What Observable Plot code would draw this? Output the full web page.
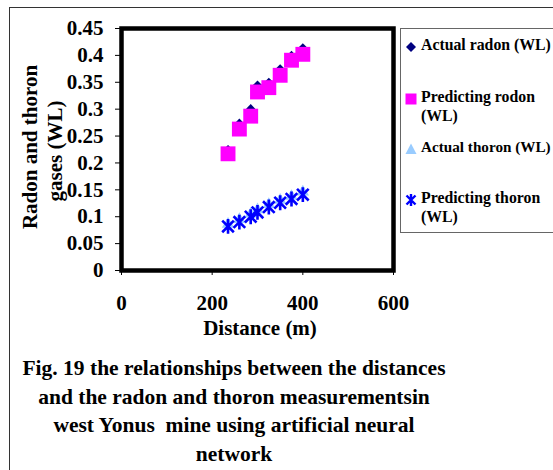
<!DOCTYPE html>
<html><head><meta charset="utf-8">
<script src="https://cdn.jsdelivr.net/npm/d3@7"></script>
<script src="https://cdn.jsdelivr.net/npm/@observablehq/plot@0.6"></script>
<style>
body{margin:0;background:#fff;font-family:"Liberation Serif","Times New Roman",serif;font-weight:bold;color:#000;}
#wrap{position:relative;width:553px;height:470px;overflow:hidden;background:#fff;}
#chart{position:absolute;left:0;top:0;}
.bt{position:absolute;left:9px;top:7px;width:600px;height:0;border-top:1px solid #333;}
.bl{position:absolute;left:9px;top:7px;width:0;height:500px;border-left:1px solid #333;}
#legend{position:absolute;left:400px;top:28px;width:170px;height:205px;border:1px solid #666;box-sizing:border-box;}
.lt{position:absolute;font-size:15.8px;white-space:nowrap;line-height:18px;}
.lm{position:absolute;}
.cap{position:absolute;left:234px;transform:translate(-50%,-50%);font-size:21.5px;white-space:pre;}
.yt{position:absolute;transform:translate(-50%,-50%) rotate(-90deg);font-size:21px;white-space:nowrap;}
.xt{position:absolute;transform:translate(-50%,-50%);font-size:21px;white-space:nowrap;}
</style></head>
<body>
<div id="wrap">
  <div id="chart"></div>
  <div class="bt"></div><div class="bl"></div>
  <div class="yt" style="left:30px;top:147px;">Radon and thoron</div>
  <div class="yt" style="left:55px;top:151px;">gases (WL)</div>
  <div class="xt" style="left:260px;top:328px;">Distance (m)</div>
  <div id="legend"></div>
</div>
<script>
const distance = [235, 260, 285, 300, 325, 350, 375, 400];
const actualRadon = [0.225, 0.274, 0.301, 0.345, 0.350, 0.375, 0.400, 0.414];
const predictingRadon = [0.217, 0.263, 0.287, 0.332, 0.340, 0.363, 0.391, 0.402];
const actualThoron = [0.086, 0.095, 0.105, 0.113, 0.123, 0.131, 0.138, 0.146];
const predictingThoron = [0.082, 0.090, 0.100, 0.108, 0.118, 0.126, 0.133, 0.141];
const seriesNames = ["Actual radon (WL)", "Predicting rodon (WL)", "Actual thoron (WL)", "Predicting thoron (WL)"];
const xTicks = [0, 200, 400, 600];
const xTickLabels = ["0", "200", "400", "600"];
const yTicks = [0, 0.05, 0.1, 0.15, 0.2, 0.25, 0.3, 0.35, 0.4, 0.45];
const yTickLabels = ["0", "0.05", "0.1", "0.15", "0.2", "0.25", "0.3", "0.35", "0.4", "0.45"];
const captionLines = ["Fig. 19 the relationships between the distances", "and the radon and thoron measurementsin", "west Yonus  mine using artificial neural", "network"];

const rows = arr => distance.map((d, i) => ({x: d, y: arr[i]}));

const asterisk = {
  draw(ctx, size) {
    const h = Math.sqrt(size) / 2, d = h * 0.78;
    ctx.moveTo(0, -h); ctx.lineTo(0, h);
    ctx.moveTo(-d, -d); ctx.lineTo(d, d);
    ctx.moveTo(-d, d); ctx.lineTo(d, -d);
  }
};

const chart = Plot.plot({
  width: 553, height: 340,
  marginLeft: 121, marginRight: 160, marginTop: 28, marginBottom: 70,
  style: {fontFamily: "Liberation Serif, Times New Roman, serif", fontWeight: "bold", background: "transparent", color: "#000", overflow: "visible"},
  x: {domain: [0, 600], label: null},
  y: {domain: [0, 0.45], label: null},
  marks: [
    Plot.axisX({ticks: xTicks, tickSize: 5, tickPadding: 20, fontSize: 21, label: null, stroke: "#000", tickFormat: d => xTickLabels[xTicks.indexOf(d)]}),
    Plot.axisY({ticks: yTicks, tickSize: 6, tickPadding: 12, fontSize: 21, label: null, stroke: "#000", tickFormat: d => yTickLabels[yTicks.indexOf(d)]}),
    Plot.dot(rows(actualRadon), {x: "x", y: "y", symbol: "diamond2", r: 4.1, fill: "#000080"}),
    Plot.dot(rows(predictingRadon), {x: "x", y: "y", symbol: "square", r: 8.4, fill: "#FF00FF"}),
    Plot.dot(rows(actualThoron), {x: "x", y: "y", symbol: "triangle", r: 4.6, fill: "#99CCFF"}),
    Plot.dot(rows(predictingThoron), {x: "x", y: "y", symbol: asterisk, r: 8.4, fill: "none", stroke: "#0000FF", strokeWidth: 2.6}),
    Plot.frame({stroke: "#000", strokeWidth: 4.5})
  ]
});
document.getElementById("chart").appendChild(chart);

// legend
const legend = document.getElementById("legend");
const lx = 11;
const items = [
  {lines: ["Actual radon (WL)"], cy: 17, mk: `<polygon points="6,1 11,6 6,11 1,6" fill="#000080"/>`},
  {lines: ["Predicting rodon", "(WL)"], cy: 69, mk: `<rect x="0.5" y="0.5" width="11" height="11" fill="#FF00FF"/>`},
  {lines: ["Actual thoron (WL)"], cy: 119, fs: 15.2, mk: `<polygon points="6,0.5 11.5,11 0.5,11" fill="#99CCFF"/>`},
  {lines: ["Predicting thoron", "(WL)"], cy: 170, mk: `<path d="M6,0V12M1.5,1.5L10.5,10.5M1.5,10.5L10.5,1.5" stroke="#0000FF" stroke-width="2.4" fill="none"/>`}
];
items.forEach(it => {
  const m = document.createElement("div");
  m.className = "lm";
  m.style.left = (lx - 6 - 1) + "px";
  m.style.top = (it.cy - 6 - 1) + "px";
  m.innerHTML = `<svg width="12" height="12" viewBox="0 0 12 12">${it.mk}</svg>`;
  legend.appendChild(m);
  it.lines.forEach((t, j) => {
    const d = document.createElement("div");
    d.className = "lt";
    d.style.left = "20px";
    d.style.top = (it.cy - 9 - 1 + j * 18.5) + "px";
    if (it.fs) d.style.fontSize = it.fs + "px";
    d.textContent = t;
    legend.appendChild(d);
  });
});

// caption
captionLines.forEach((t, i) => {
  const d = document.createElement("div");
  d.className = "cap";
  d.style.top = (368 + i * 28.5) + "px";
  d.textContent = t;
  document.getElementById("wrap").appendChild(d);
});
</script>
</body></html>
